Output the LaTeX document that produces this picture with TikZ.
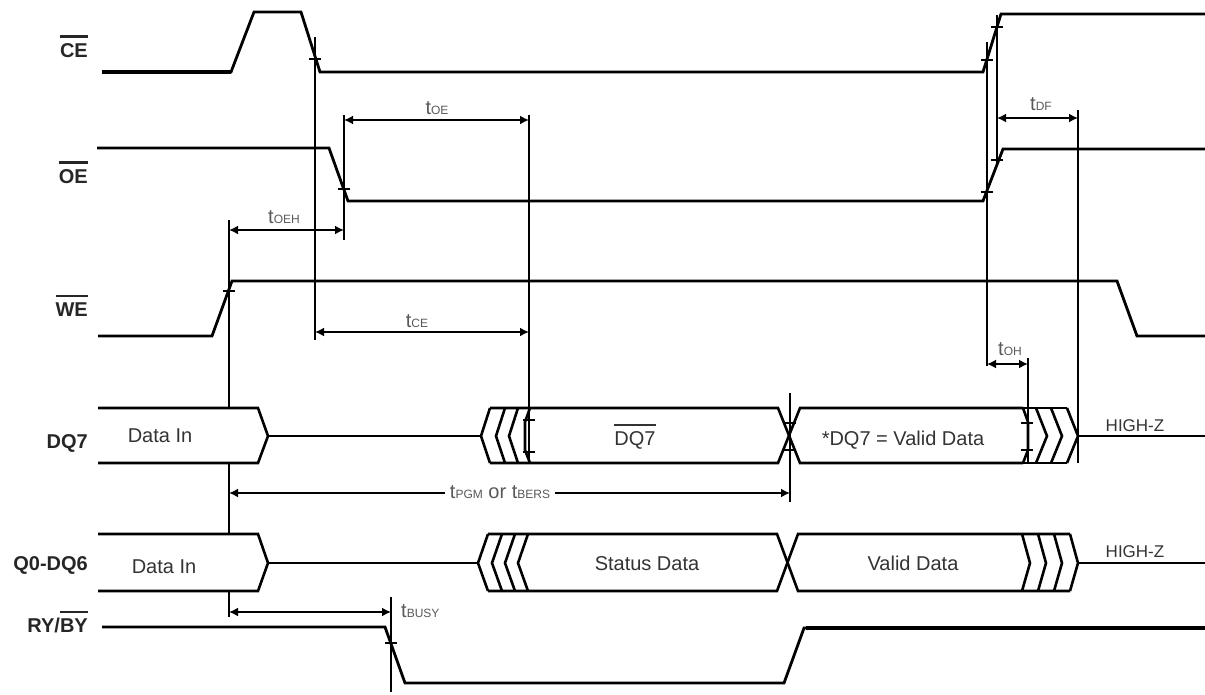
\documentclass[tikz,border=0pt]{standalone}
\usepackage{fontspec}
\setmainfont{Liberation Sans}
\usetikzlibrary{arrows.meta}

% timing name: t with small capitals behind it
\newcommand{\tm}[1]{t{\fontsize{12}{12}\selectfont #1}}
% text with a bar over it
\newcommand{\barred}[2][2.6pt]{\vbox{\hrule height #1\kern 5pt\hbox{#2}}}

\begin{document}
\begin{tikzpicture}[x=1pt, y=-1pt]
    % Define the styles for signals, guides and labels
    \tikzset{
        sig/.style={line width=2.8pt, line join=miter},
        heavy/.style={line width=3.8pt},
        bus/.style={line width=2.6pt, line join=miter},
        guide/.style={line width=2.2pt},
        thinguide/.style={line width=1.1pt},
        tickmark/.style={line width=1.8pt},
        dim/.style={line width=2.2pt, {Latex[length=9pt,width=9pt]}-{Latex[length=9pt,width=9pt]}},
        signame/.style={font=\fontsize{20}{20}\selectfont\bfseries, text=black!85, anchor=base east, inner sep=0pt},
        busdata/.style={font=\fontsize{20}{20}\selectfont, text=black!80, anchor=base, inner sep=0pt},
        timing/.style={font=\fontsize{20}{20}\selectfont, text=black!65, anchor=base, inner sep=0pt}
    }
    \useasboundingbox (0,0) rectangle (1205,694);

    % Signal names
    \node[signame] (nce) at (88,57) {\barred{CE}};
    \node[signame] (noe) at (88,183) {\barred{OE}};
    \node[signame] (nwe) at (88,316) {\barred{WE}};
    \node[signame] (ndq) at (88,448) {DQ7};
    \node[signame] (nq) at (88,570) {Q0-DQ6};
    \node[signame] (nry) at (88,632) {RY/\barred{BY}};

    % Guide lines
    \draw[thinguide] (315,37) -- (315,340);
    \draw[thinguide] (790,393) -- (790,502);
    \draw[guide] (344,115) -- (344,240);
    \draw[guide] (529,115) -- (529,463);
    \draw[guide] (229,220) -- (229,408);
    \draw[guide] (229,463) -- (229,534);
    \draw[guide] (229,591) -- (229,617);
    \draw[guide] (987,42) -- (987,366);
    \draw[guide] (997,15) -- (997,163);
    \draw[guide] (1028,358) -- (1028,463);
    \draw[guide] (1078,110) -- (1078,463);
    \draw[guide] (391,597) -- (391,692);

    % Control signals
    \draw[sig] (102,72) -- (231,72) -- (254,12) -- (301,12) -- (320,72) -- (983,72) -- (1001,14) -- (1205,14);
    \draw[heavy] (102,72) -- (231,72);
    \draw[sig] (97,148) -- (329,148) -- (348,201) -- (983,201) -- (1003,149) -- (1205,149);
    \draw[sig] (98,336) -- (212,336) -- (232,281) -- (1117,281) -- (1137,336) -- (1205,336);
    \draw[sig] (102,627) -- (385,627) -- (405,683) -- (784,683) -- (804,628) -- (1205,628);
    \draw[heavy] (806,628) -- (1205,628);

    % DQ7 bus
    \draw[bus] (98,408) -- (258,408) -- (268,436) -- (258,463) -- (98,463);
    \draw[bus] (268,436) -- (481,436);
    \foreach \x in {490,505,518}
        \draw[bus] (\x,408) -- (\x-9,436) -- (\x,463);
    \draw[bus] (530,408) -- (525,422) -- (525,450) -- (530,463);
    \draw[bus] (490,408) -- (778,408) -- (800,463) -- (1023,463);
    \draw[bus] (490,463) -- (778,463) -- (800,408) -- (1023,408);
    \draw[bus] (1023,408) -- (1028,422) -- (1028,450) -- (1023,463);
    \draw[bus] (1023,408) -- (1067,408);
    \draw[bus] (1023,463) -- (1067,463);
    \foreach \x in {1036,1051,1067}
        \draw[bus] (\x,408) -- (\x+11,436) -- (\x,463);
    \draw[bus] (1078,436) -- (1205,436);

    % Q0-DQ6 bus
    \draw[bus] (98,534) -- (258,534) -- (268,563) -- (258,591) -- (98,591);
    \draw[bus] (268,563) -- (478,563);
    \foreach \x in {488,502,515,528}
        \draw[bus] (\x,534) -- (\x-10,563) -- (\x,591);
    \draw[bus] (488,534) -- (777,534) -- (798,591) -- (1070,591);
    \draw[bus] (488,591) -- (777,591) -- (798,534) -- (1070,534);
    \foreach \x in {1022,1038,1054,1070}
        \draw[bus] (\x,534) -- (\x+8,563) -- (\x,591);
    \draw[bus] (1078,563) -- (1205,563);

    % Tick marks on the edges
    \foreach \x/\y in {315/59, 344/189, 229/291, 987/60, 997/27, 987/192, 997/160, 391/643,
                       529/420, 529/452, 790/423, 790/450, 1027/423, 1027/450}
        \draw[tickmark] (\x-6,\y) -- (\x+6,\y);

    % Bus texts
    \node[busdata] (din7) at (160,442) {Data In};
    \node[busdata] (dbar) at (635,445) {\barred[1.6pt]{DQ7}};
    \node[busdata] (dval) at (903,445) {*DQ7 = Valid Data};
    \node[busdata, font=\fontsize{17}{17}\selectfont] (hz7) at (1135,431) {HIGH-Z};
    \node[busdata] (din) at (164,573) {Data In};
    \node[busdata] (stat) at (647,570) {Status Data};
    \node[busdata] (val) at (913,570) {Valid Data};
    \node[busdata, font=\fontsize{17}{17}\selectfont] (hz) at (1135,557) {HIGH-Z};

    % Timing arrows
    \draw[dim] (344,120) -- (529,120);
    \node[timing] (toe) at (437,114) {\tm{OE}};
    \draw[dim] (229,230) -- (344,230);
    \node[timing] (toeh) at (284,223) {\tm{OEH}};
    \draw[dim] (315,332) -- (529,332);
    \node[timing] (tce) at (417,327) {\tm{CE}};
    \draw[dim] (997,118) -- (1078,118);
    \node[timing] (tdf) at (1041,110) {\tm{DF}};
    \draw[dim] (987,364) -- (1028,364);
    \node[timing] (toh) at (1010,355) {\tm{OH}};
    \draw[dim] (229,493) -- (790,493);
    \node[timing, fill=white, inner xsep=5pt] (tpgm) at (500,498) {\tm{PGM} or \tm{BERS}};
    \draw[dim] (229,612) -- (391,612);
    \node[timing, anchor=base west] (tbusy) at (401,617) {\tm{BUSY}};
\end{tikzpicture}
\end{document}
